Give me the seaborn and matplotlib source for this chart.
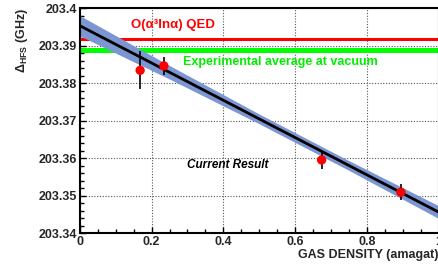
import matplotlib
matplotlib.use("Agg")
import matplotlib.pyplot as plt
import matplotlib.ticker as mticker
import numpy as np
import pandas as pd
import seaborn as sns

# measured points (gas density, HFS interval, error)
density = [0.168, 0.234, 0.674, 0.895]
hfs = [203.3834, 203.3846, 203.3595, 203.3509]
hfs_err = [0.0051, 0.0024, 0.0025, 0.0022]

# linear fit and its uncertainty band
fit_x = [0.0, 1.0]
fit_y = [203.3953, 203.3456]
band_x = [0.0, 0.25, 0.5, 0.75, 1.0]
band_hw = [0.0027, 0.0018, 0.0013, 0.0013, 0.0017]

# reference values
qed_value = 203.3917
exp_value = 203.3887

sns.set_theme(style="white")
plt.rcParams['font.family'] = ['Liberation Sans', 'DejaVu Sans']
plt.rcParams['font.weight'] = 'bold'
plt.rcParams['mathtext.fontset'] = 'custom'
plt.rcParams['mathtext.rm'] = 'Liberation Sans:bold'
plt.rcParams['mathtext.bf'] = 'Liberation Sans:bold'
plt.rcParams['mathtext.it'] = 'Liberation Sans:bold:italic'

fig = plt.figure(figsize=(4.39, 2.71), dpi=100)
ax = fig.add_axes([0.182, 0.140, 0.817, 0.830])

# band around the fit
band_center = np.interp(band_x, fit_x, fit_y)
ax.fill_between(band_x, band_center - np.array(band_hw), band_center + np.array(band_hw),
                color="#7b96d2", lw=0, zorder=2)

# reference lines
ax.axhline(qed_value, color="#ff0000", lw=2.2, zorder=1)
ax.axhline(exp_value, color="#00ff00", lw=3.6, zorder=1)

# fit line
fit_df = pd.DataFrame({"x": fit_x, "y": fit_y})
sns.lineplot(data=fit_df, x="x", y="y", color="black", lw=2, ax=ax, zorder=3)

# data points
ax.errorbar(density, hfs, yerr=hfs_err, fmt="none", ecolor="black", elinewidth=1.2, zorder=4)
pts = pd.DataFrame({"density": density, "hfs": hfs})
sns.scatterplot(data=pts, x="density", y="hfs", color="#ff0000", s=45, edgecolor="none",
                ax=ax, zorder=5)

# annotations
ax.text(0.142, 203.3955, "O(α³lnα) QED", color="#ff0000", fontsize=9.5,
        fontweight="bold", va="center", ha="left")
ax.text(0.287, 203.3856, "Experimental average at vacuum", color="#00ee00", fontsize=9,
        fontweight="bold", va="center", ha="left")
ax.text(0.298, 203.3581, "Current Result", color="black", fontsize=8.5,
        fontweight="bold", style="italic", va="center", ha="left")

# axes
ax.set_xlim(0, 1)
ax.set_ylim(203.34, 203.4)
ax.xaxis.set_major_locator(mticker.MultipleLocator(0.2))
ax.xaxis.set_minor_locator(mticker.MultipleLocator(0.05))
ax.yaxis.set_major_locator(mticker.MultipleLocator(0.01))
ax.yaxis.set_minor_locator(mticker.MultipleLocator(0.002))
ax.xaxis.set_major_formatter(mticker.FormatStrFormatter('%g'))
ax.yaxis.set_major_formatter(mticker.FuncFormatter(lambda v, p: '%g' % round(v, 3)))
ax.tick_params(which="both", direction="in", left=True, bottom=True, labelsize=9, pad=2,
               width=1, color="black")
ax.tick_params(which="major", length=4.5)
ax.tick_params(which="minor", length=3)
for lab in ax.get_xticklabels() + ax.get_yticklabels():
    lab.set_fontweight("bold")

ax.grid(True, which="major", ls=(0, (1, 1.5)), color="#555555", lw=0.8)
for side in ax.spines.values():
    side.set_color("black")
    side.set_linewidth(1.5)

ax.set_xlabel("GAS DENSITY (amagat)", fontsize=9, fontweight="bold", loc="right", labelpad=1)
ax.set_ylabel(r"$\Delta_{\rm HFS}$ (GHz)", fontsize=9, fontweight="bold", loc="top", labelpad=6)

fig.savefig("out.png", dpi=100)
